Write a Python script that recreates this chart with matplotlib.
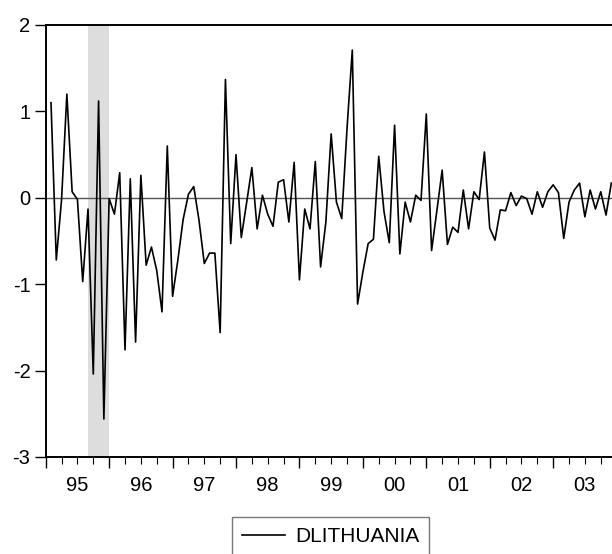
import matplotlib.pyplot as plt
from matplotlib.ticker import FixedLocator, NullFormatter

plt.rcParams['font.family'] = ['Liberation Sans', 'DejaVu Sans']

# monthly first differences, 1995M02 .. 2003M12
START_YEAR = 1995
FIRST_MONTH = 1
DLITHUANIA = [
    1.10, -0.72, -0.02, 1.20, 0.07, -0.02, -0.97, -0.13, -2.04, 1.12, -2.56,
    -0.01, -0.19, 0.29, -1.76, 0.22, -1.67, 0.26, -0.78, -0.57, -0.84, -1.32, 0.60,
    -1.14, -0.72, -0.25, 0.04, 0.13, -0.26, -0.76, -0.64, -0.64, -1.56, 1.37, -0.53,
    0.50, -0.46, -0.06, 0.35, -0.36, 0.03, -0.19, -0.33, 0.18, 0.21, -0.28, 0.41,
    -0.95, -0.13, -0.36, 0.42, -0.80, -0.28, 0.74, -0.05, -0.24, 0.80, 1.71, -1.23,
    -0.86, -0.53, -0.48, 0.48, -0.16, -0.52, 0.84, -0.65, -0.05, -0.28, 0.03, -0.03,
    0.97, -0.61, -0.15, 0.32, -0.54, -0.34, -0.40, 0.09, -0.36, 0.07, -0.02, 0.53,
    -0.35, -0.49, -0.14, -0.15, 0.06, -0.09, 0.02, -0.01, -0.19, 0.07, -0.11, 0.07,
    0.15, 0.06, -0.47, -0.05, 0.09, 0.17, -0.22, 0.09, -0.13, 0.07, -0.20, 0.17,
]
YEAR_LABELS = ['95', '96', '97', '98', '99', '00', '01', '02', '03']
SHADE = (1995 + 8 / 12, 1996.0)

t = [START_YEAR + (FIRST_MONTH + i) / 12 for i in range(len(DLITHUANIA))]

fig = plt.figure(figsize=(6.12, 5.54), dpi=100)
ax = fig.add_axes([0.0747, 0.1751, 0.9328, 0.7798])

ax.axvspan(SHADE[0], SHADE[1], color='#DDDDDD', lw=0, zorder=0)
ax.axhline(0, color='#555555', lw=1.0, zorder=1)
line, = ax.plot(t, DLITHUANIA, color='black', lw=1.2, zorder=2, label='DLITHUANIA')

ax.set_xlim(1995, 2004)
ax.set_ylim(-3, 2)

years = list(range(1995, 2005))
ax.xaxis.set_major_locator(FixedLocator(years))
ax.xaxis.set_major_formatter(NullFormatter())
ax.xaxis.set_minor_locator(FixedLocator([y + q / 4 for y in years[:-1] for q in (1, 2, 3)]))
for y, lab in zip(years, YEAR_LABELS):
    ax.text(y + 0.5, -0.043, lab, transform=ax.get_xaxis_transform(),
            ha='center', va='top', fontsize=14.5)

ax.set_yticks([-3, -2, -1, 0, 1, 2])
ax.set_yticklabels(['-3', '-2', '-1', '0', '1', '2'])
ax.tick_params(axis='y', direction='out', length=8, width=1.0, labelsize=14.5, pad=3)
ax.tick_params(axis='x', which='major', direction='out', length=8, width=1.0)
ax.tick_params(axis='x', which='minor', direction='out', length=5, width=0.8)

for side in ('top', 'left', 'bottom'):
    ax.spines[side].set_linewidth(1.4)
ax.spines['right'].set_visible(False)

leg = fig.legend(handles=[line], loc='upper center', bbox_to_anchor=(0.540, 0.066),
                 fontsize=15, frameon=True, fancybox=False, handlelength=2.05,
                 borderpad=0.45, handletextpad=0.5, borderaxespad=0)
leg.get_frame().set_edgecolor('#555555')
leg.get_frame().set_linewidth(1.0)

fig.savefig('out.png', dpi=100)
